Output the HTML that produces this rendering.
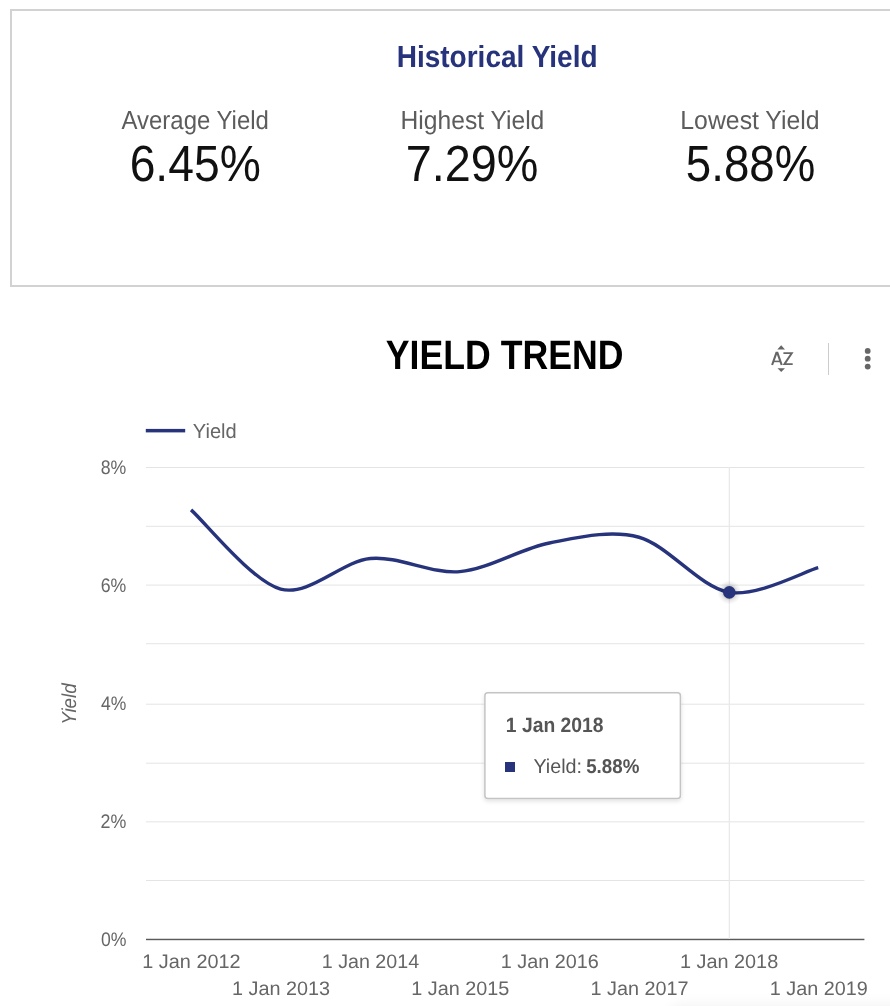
<!DOCTYPE html><html><head><meta charset="utf-8"><title>Historical Yield</title><style>html,body{margin:0;padding:0;background:#fff;width:890px;height:1006px;overflow:hidden}svg{display:block;will-change:transform;font-family:"Liberation Sans",sans-serif}</style></head><body><svg width="890" height="1006" viewBox="0 0 890 1006" font-family="Liberation Sans, sans-serif" text-rendering="geometricPrecision"><defs><radialGradient id="dotsh"><stop offset="0.45" stop-color="#000" stop-opacity="0.22"/><stop offset="0.7" stop-color="#000" stop-opacity="0.08"/><stop offset="1" stop-color="#000" stop-opacity="0"/></radialGradient><linearGradient id="btsh" x1="0" y1="0" x2="0" y2="1"><stop offset="0" stop-color="#000" stop-opacity="0.0"/><stop offset="0.35" stop-color="#000" stop-opacity="0.045"/></linearGradient><filter id="blur6" x="-20%" y="-50%" width="140%" height="200%"><feGaussianBlur stdDeviation="5"/></filter><filter id="tsh" x="-10%" y="-10%" width="120%" height="130%"><feDropShadow dx="0" dy="2" stdDeviation="2" flood-color="#000" flood-opacity="0.12"/></filter></defs><rect width="890" height="1006" fill="#fff"/><rect x="11" y="10" width="900" height="276" fill="#fff" stroke="#d2d2d2" stroke-width="2"/>
<text x="396.66" y="67.00" font-size="30.52" font-weight="bold" font-style="normal" fill="#27347c" textLength="200.92" lengthAdjust="spacingAndGlyphs">Historical Yield</text>
<text x="121.53" y="129.00" font-size="26.02" font-weight="normal" font-style="normal" fill="#5c5c5c" textLength="147.35" lengthAdjust="spacingAndGlyphs">Average Yield</text>
<text x="400.50" y="129.00" font-size="26.02" font-weight="normal" font-style="normal" fill="#5c5c5c" textLength="143.82" lengthAdjust="spacingAndGlyphs">Highest Yield</text>
<text x="680.34" y="129.00" font-size="26.02" font-weight="normal" font-style="normal" fill="#5c5c5c" textLength="139.28" lengthAdjust="spacingAndGlyphs">Lowest Yield</text>
<text x="129.66" y="181.00" font-size="51.02" font-weight="normal" font-style="normal" fill="#111111" textLength="131.09" lengthAdjust="spacingAndGlyphs">6.45%</text>
<text x="405.78" y="181.00" font-size="51.02" font-weight="normal" font-style="normal" fill="#111111" textLength="132.59" lengthAdjust="spacingAndGlyphs">7.29%</text>
<text x="685.82" y="181.00" font-size="51.02" font-weight="normal" font-style="normal" fill="#111111" textLength="129.42" lengthAdjust="spacingAndGlyphs">5.88%</text>
<text x="385.79" y="369.00" font-size="40.99" font-weight="bold" font-style="normal" fill="#000000" textLength="237.62" lengthAdjust="spacingAndGlyphs">YIELD TREND</text>
<path d="M777.3,349.6 L781.2,345.3 L785,349.6 Z M777.5,368.3 L785,368.3 L781.2,372.1 Z" fill="#666"/>
<path d="M772.1,365 L776.4,352.9 L777.4,352.9 L781.7,365" fill="none" stroke="#666" stroke-width="2.1" stroke-linejoin="miter"/>
<path d="M773.6,361.4 H780.1" fill="none" stroke="#666" stroke-width="1.6"/>
<path d="M783.4,353.1 H791.8 L784.4,364.1 H792.7" fill="none" stroke="#666" stroke-width="1.9" stroke-linejoin="miter"/>
<rect x="828" y="343" width="1" height="32" fill="#cccccc"/>
<circle cx="867.7" cy="350.9" r="2.9" fill="#666"/>
<circle cx="867.7" cy="358.7" r="2.9" fill="#666"/>
<circle cx="867.7" cy="366.6" r="2.9" fill="#666"/>
<rect x="145.8" y="428.9" width="39.4" height="3.5" fill="#27347c"/>
<text x="192.78" y="438.00" font-size="20.35" font-weight="normal" font-style="normal" fill="#666666" textLength="43.91" lengthAdjust="spacingAndGlyphs">Yield</text>
<rect x="146" y="467.03" width="718.4" height="1" fill="#e4e4e4"/>
<rect x="146" y="525.80" width="718.4" height="1" fill="#e4e4e4"/>
<rect x="146" y="584.58" width="718.4" height="1" fill="#e4e4e4"/>
<rect x="146" y="643.24" width="718.4" height="1" fill="#e4e4e4"/>
<rect x="146" y="703.69" width="718.4" height="1" fill="#e4e4e4"/>
<rect x="146" y="762.69" width="718.4" height="1" fill="#e4e4e4"/>
<rect x="146" y="821.35" width="718.4" height="1" fill="#e4e4e4"/>
<rect x="146" y="880.02" width="718.4" height="1" fill="#e4e4e4"/>
<rect x="146" y="938.75" width="718.4" height="1.45" fill="#5a5a5a"/>
<text x="100.76" y="474.00" font-size="19.62" font-weight="normal" font-style="normal" fill="#666666" textLength="25.57" lengthAdjust="spacingAndGlyphs">8%</text>
<text x="100.74" y="592.00" font-size="19.62" font-weight="normal" font-style="normal" fill="#666666" textLength="25.58" lengthAdjust="spacingAndGlyphs">6%</text>
<text x="101.06" y="710.00" font-size="19.62" font-weight="normal" font-style="normal" fill="#666666" textLength="25.33" lengthAdjust="spacingAndGlyphs">4%</text>
<text x="100.56" y="828.00" font-size="19.62" font-weight="normal" font-style="normal" fill="#666666" textLength="25.77" lengthAdjust="spacingAndGlyphs">2%</text>
<text x="100.90" y="946.00" font-size="19.62" font-weight="normal" font-style="normal" fill="#666666" textLength="25.52" lengthAdjust="spacingAndGlyphs">0%</text>
<rect x="728.75" y="467" width="1.2" height="472" fill="#e8e8e8"/>
<text x="142.34" y="968.00" font-size="19.48" font-weight="normal" font-style="normal" fill="#666666" textLength="98.20" lengthAdjust="spacingAndGlyphs">1 Jan 2012</text>
<text x="231.96" y="995.00" font-size="19.48" font-weight="normal" font-style="normal" fill="#666666" textLength="98.13" lengthAdjust="spacingAndGlyphs">1 Jan 2013</text>
<text x="321.74" y="968.00" font-size="19.48" font-weight="normal" font-style="normal" fill="#666666" textLength="97.42" lengthAdjust="spacingAndGlyphs">1 Jan 2014</text>
<text x="411.32" y="995.00" font-size="19.48" font-weight="normal" font-style="normal" fill="#666666" textLength="98.05" lengthAdjust="spacingAndGlyphs">1 Jan 2015</text>
<text x="500.81" y="968.00" font-size="19.48" font-weight="normal" font-style="normal" fill="#666666" textLength="98.09" lengthAdjust="spacingAndGlyphs">1 Jan 2016</text>
<text x="590.54" y="995.00" font-size="19.48" font-weight="normal" font-style="normal" fill="#666666" textLength="98.04" lengthAdjust="spacingAndGlyphs">1 Jan 2017</text>
<text x="679.95" y="968.00" font-size="19.48" font-weight="normal" font-style="normal" fill="#666666" textLength="98.25" lengthAdjust="spacingAndGlyphs">1 Jan 2018</text>
<text x="769.72" y="995.00" font-size="19.48" font-weight="normal" font-style="normal" fill="#666666" textLength="97.99" lengthAdjust="spacingAndGlyphs">1 Jan 2019</text>
<path d="M191.05,509.87 C205.34,522.50 252.06,581.32 280.64,589.07 C309.22,596.83 341.65,561.28 370.24,558.49 C398.82,555.71 431.25,574.10 459.83,571.62 C488.42,569.15 520.85,548.45 549.43,542.96 C578.01,537.48 610.44,529.38 639.03,537.24 C667.61,545.11 700.04,587.39 728.62,592.25 C757.20,597.10 803.93,571.60 818.22,567.69" fill="none" stroke="#27347c" stroke-width="3.4"/>
<circle cx="729.3" cy="592.4" r="12" fill="url(#dotsh)"/>
<circle cx="729.3" cy="592.4" r="6.3" fill="#27347c"/>
<g transform="translate(76.4,703.1) rotate(-90)"><text x="-21.70" y="0.00" font-size="20.20" font-weight="normal" font-style="italic" fill="#666666" textLength="41.50" lengthAdjust="spacingAndGlyphs">Yield</text></g>
<rect x="484.9" y="692.7" width="195.5" height="105.9" rx="3" fill="#fff" stroke="#c4c4c4" stroke-width="1.5" filter="url(#tsh)"/>
<text x="505.82" y="732.00" font-size="20.78" font-weight="bold" font-style="normal" fill="#555555" textLength="97.69" lengthAdjust="spacingAndGlyphs">1 Jan 2018</text>
<rect x="505" y="762" width="10" height="10" fill="#27347c"/>
<text x="533.38" y="773.00" font-size="19.91" font-weight="normal" font-style="normal" fill="#555555" textLength="48.67" lengthAdjust="spacingAndGlyphs">Yield:</text>
<text x="586.19" y="773.00" font-size="19.91" font-weight="bold" font-style="normal" fill="#555555" textLength="53.22" lengthAdjust="spacingAndGlyphs">5.88%</text><rect x="668" y="997" width="280" height="40" rx="30" fill="url(#btsh)" filter="url(#blur6)"/></svg></body></html>
